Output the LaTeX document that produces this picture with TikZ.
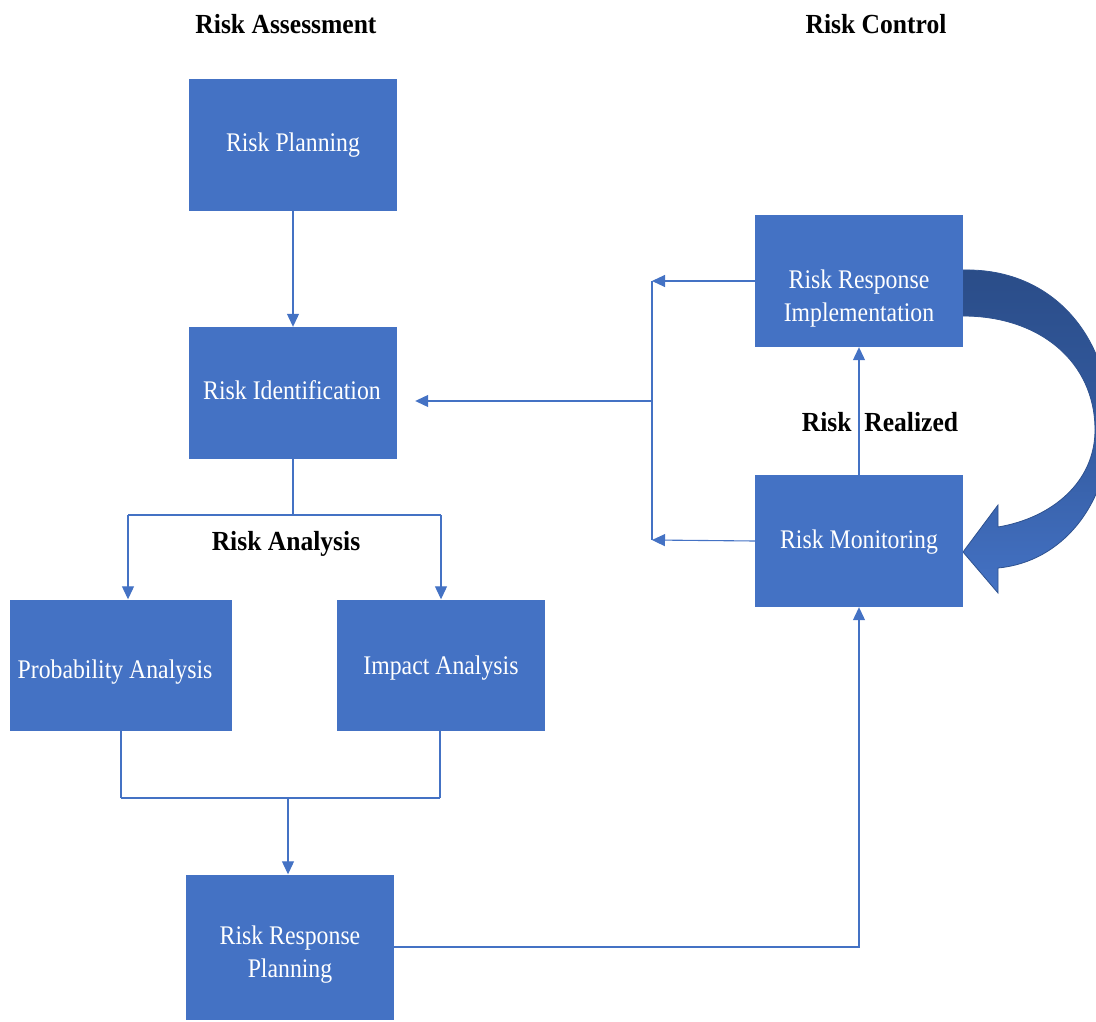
\documentclass[tikz,border=0pt]{standalone}
\usepackage{fontspec}
\setmainfont{Liberation Serif}
\usetikzlibrary{arrows.meta,calc}
\definecolor{boxblue}{HTML}{4472C4}
\definecolor{darkblue}{HTML}{2F5597}
\definecolor{edgeblue}{HTML}{2F528F}
\newcommand{\tallt}[1]{\scalebox{0.99}[1.12]{\begin{tabular}{@{}c@{}}#1\end{tabular}}}
\newcommand{\tallh}[1]{\scalebox{1.065}[1.15]{#1}}
\begin{document}
\begin{tikzpicture}[x=1pt,y=-1pt,
  box/.style={fill=boxblue,draw=none,inner sep=0pt},
  boxtext/.style={text=white,font=\fontsize{24}{29.5}\selectfont,align=center,inner sep=0pt},
  head/.style={font=\bfseries\fontsize{24}{28}\selectfont,text=black,inner sep=0pt},
  ln/.style={draw=boxblue,line width=1.1pt},
  arr/.style={ln,-{Triangle[length=13pt,width=12pt]}}]
\useasboundingbox (0,0) rectangle (1096,1022);
\begin{scope}
\clip (0,0) rectangle (1096,1022);
% big curved arrow
\path[top color=darkblue!90!black,bottom color=boxblue,middle color=darkblue!80!boxblue,draw=edgeblue,line width=0.8pt]
  (963,270) .. controls (1055,268) and (1112,340) .. (1110,430)
  .. controls (1108,505) and (1062,562) .. (998,568)
  -- (998,593) -- (963,552) -- (998,505) -- (998,527)
  .. controls (1052,518) and (1095,482) .. (1095,430)
  .. controls (1095,362) and (1040,316) .. (963,316) -- cycle;
\end{scope}
% headings
\node[head] (hA) at (286,24) {\tallh{Risk Assessment}};
\node[head] (hC) at (876,24) {\tallh{Risk Control}};
\node[head] (hRA) at (286,544) {\tallh{Risk Analysis}};
\node[head] (hRR) at (880,422) {\tallh{Risk\ \ Realized}};
% boxes
\node[box,minimum width=208pt,minimum height=132pt] (plan) at (293,145) {};
\node[box,minimum width=208pt,minimum height=132pt] (ident) at (293,393) {};
\node[box,minimum width=222pt,minimum height=131pt] (prob) at (121,665) {};
\node[box,minimum width=208pt,minimum height=131pt] (imp) at (441,665) {};
\node[box,minimum width=208pt,minimum height=145pt] (rrp) at (290,947) {};
\node[box,minimum width=208pt,minimum height=132pt] (impl) at (859,281) {};
\node[box,minimum width=208pt,minimum height=132pt] (mon) at (859,541) {};
% box texts
\node[boxtext] (planT) at ($(plan)+(0,0)$) {\tallt{Risk Planning}};
\node[boxtext] (identT) at ($(ident)+(-1,0)$) {\tallt{Risk Identification}};
\node[boxtext] (probT) at ($(prob)+(-6,7)$) {\tallt{Probability Analysis}};
\node[boxtext] (impT) at ($(imp)+(0,3)$) {\tallt{Impact Analysis}};
\node[boxtext] (rrpT) at ($(rrp)+(0,7)$) {\tallt{Risk Response\\Planning}};
\node[boxtext] (implT) at ($(impl)+(0,17)$) {\tallt{Risk Response\\Implementation}};
\node[boxtext] (monT) at ($(mon)+(0,1)$) {\tallt{Risk Monitoring}};
% coordinates
\coordinate (sL) at (128,515);
\coordinate (sR) at (441,515);
\coordinate (mL) at (121,798);
\coordinate (mR) at (440,798);
\coordinate (mM) at (288,798);
\coordinate (jt) at (652,281);
\coordinate (jb) at (652,540);
\coordinate (jm) at (652,401);
% connectors
\draw[arr] (plan.south) -- (ident.north);
\draw[ln] (ident.south) -- (ident.south |- sL);
\draw[ln] (sL) -- (sR);
\draw[arr] (sL) -- (sL |- prob.north);
\draw[arr] (sR) -- (sR |- imp.north);
\draw[ln] (prob.south) -- (mL);
\draw[ln] (imp.south -| mR) -- (mR);
\draw[ln] (mL) -- (mR);
\draw[arr] (mM) -- (mM |- rrp.north);
\draw[arr] (rrp.east) -| (mon.south);
\draw[arr] (mon.north) -- (impl.south);
\draw[arr] (impl.west) -- (jt);
\draw[arr] (mon.west) -- (jb);
\draw[ln] (jt) -- (jb);
\draw[arr] (jm) -- ($(ident.east |- jm)+(18,0)$);
\end{tikzpicture}
\end{document}
